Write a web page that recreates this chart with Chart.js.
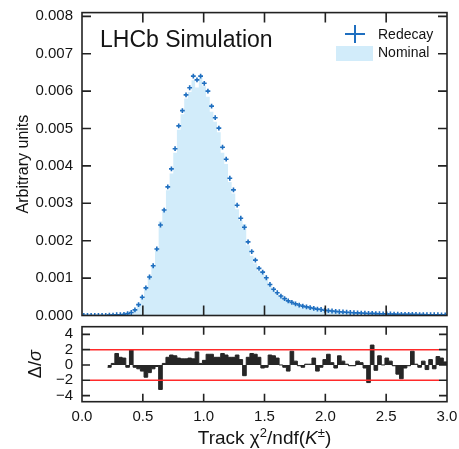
<!DOCTYPE html>
<html><head><meta charset="utf-8">
<script src="https://cdn.jsdelivr.net/npm/chart.js@4.4.1/dist/chart.umd.min.js"></script>
<style>
html,body{margin:0;padding:0;background:#fff;}
#wrap{position:relative;width:459px;height:449px;overflow:hidden;background:#fff;}
#wrap canvas{position:absolute;left:0;}
#top{top:0;}
#bot{top:322px;}
</style></head><body>
<div id="wrap"><canvas id="top" width="459" height="330"></canvas><canvas id="bot" width="459" height="127"></canvas></div>
<script>
// ---------------- data ----------------
const xTickValues = [0, 0.5, 1, 1.5, 2, 2.5, 3];
const xTickLabels = ['0.0', '0.5', '1.0', '1.5', '2.0', '2.5', '3.0'];
const yTickValuesTop = [0, 0.001, 0.002, 0.003, 0.004, 0.005, 0.006, 0.007, 0.008];
const yTickLabelsTop = ['0.000', '0.001', '0.002', '0.003', '0.004', '0.005', '0.006', '0.007', '0.008'];
const yTickValuesPull = [-4, -2, 0, 2, 4];
const yTickLabelsPull = ['\u22124', '\u22122', '0', '2', '4'];
const pullBands = [-2, 2];

// 100 bins of width 0.03 from 0 to 3
const binEdges = Array.from({length: 101}, (_, i) => Math.round(i * 3) / 100);

const redecay = [
  0, 0, 0, 0, 0, 0, 0,
  0.00001, 0.00001, 0.00002, 0.00002, 0.00003, 0.00005,
  0.00008, 0.00015, 0.00029, 0.00049, 0.00074, 0.00103, 0.00133, 0.00178,
  0.00242, 0.00282, 0.00344, 0.00392, 0.00446, 0.00507, 0.00548, 0.00590, 0.00609, 0.00640,
  0.00630, 0.00640, 0.00621, 0.00600, 0.00560, 0.00529, 0.00501, 0.00450, 0.00418, 0.00367,
  0.00336, 0.00295, 0.00260, 0.00236, 0.00197, 0.00171, 0.00148, 0.00126, 0.00116, 0.00101,
  0.00083, 0.00070, 0.00061, 0.00052, 0.00045, 0.00039, 0.00035, 0.00031, 0.00028, 0.00025,
  0.00023, 0.00021, 0.00019, 0.00017, 0.00016, 0.00014, 0.00013, 0.00012, 0.00011, 0.00010,
  0.000095, 0.000088, 0.000080, 0.000075, 0.000070, 0.000065, 0.000060, 0.000055, 0.000058, 0.000050,
  0.000048, 0.000045, 0.000042, 0.000040, 0.000037, 0.000034, 0.000032, 0.000031, 0.000030, 0.000030,
  0.000027, 0.000025, 0.000025, 0.000022, 0.000022, 0.000020, 0.000020, 0.000019, 0.000018
];

const nominal = [
  0, 0, 0, 0, 0, 0, 0,
  0.00001, 0.00001, 0.00001, 0.00002, 0.00002, 0.00005,
  0.00006, 0.00015, 0.00030, 0.00051, 0.00077, 0.00107, 0.00136, 0.00180,
  0.00252, 0.00281, 0.00335, 0.00380, 0.00435, 0.00497, 0.00538, 0.00580, 0.00598, 0.00629,
  0.00610, 0.00637, 0.00613, 0.00585, 0.00545, 0.00518, 0.00490, 0.00435, 0.00405, 0.00357,
  0.00326, 0.00284, 0.00254, 0.00245, 0.00188, 0.00160, 0.00139, 0.00119, 0.00117, 0.00099,
  0.00081, 0.00068, 0.00059, 0.00052, 0.00045, 0.00040, 0.00033, 0.00030, 0.00028, 0.00025,
  0.00023, 0.00021, 0.00018, 0.00018, 0.00016, 0.00013, 0.00012, 0.00012, 0.00011, 0.000095,
  0.000092, 0.000088, 0.000080, 0.000075, 0.000068, 0.000064, 0.000061, 0.000060, 0.000052, 0.000051,
  0.000046, 0.000045, 0.000040, 0.000039, 0.000037, 0.000036, 0.000035, 0.000032, 0.000030, 0.000028,
  0.000027, 0.000025, 0.000024, 0.000023, 0.000021, 0.000021, 0.000019, 0.000018, 0.000018
];

const pulls = [
  null, null, null, null, null, null, null,
  -0.3, 0.2, 1.5, 1.0, 0.9, -0.3,
  2.0, -0.3, -0.5, -0.8, -1.6, -1.0, -0.5, -0.2,
  -3.2, 0.2, 1.0, 1.3, 1.2, 0.9, 0.8, 0.8, 0.9, 0.8,
  1.7, 0.2, 0.6, 1.4, 1.4, 1.0, 1.0, 1.5, 1.3, 1.0,
  1.0, 1.3, 0.7, -1.4, 1.0, 1.5, 1.4, 1.0, -0.4, -0.3,
  1.3, 1.2, 0.9, 0.0, -0.3, -0.8, 1.8, 0.5, -0.1, -0.3,
  0.1, 0.1, 0.9, -0.8, -0.3, 0.7, 1.4, 0.3, -0.4, 1.2,
  0.5, 0.1, -0.1, -0.1, 0.5, 0.3, -0.4, -2.3, 2.6, -0.7,
  1.2, 0.0, 0.9, 0.5, -0.1, -1.2, -1.8, -0.4, -0.1, 1.8,
  0.1, -0.3, 0.5, -0.6, 0.7, -0.5, 1.1, 0.9, 0.4
];

// ---------------- styling ----------------
const FONT = '"Liberation Sans", Arial, sans-serif';
const INK = '#141414';
const BLUE = '#1f6fc0';
const FILL = '#d2ecfa';
const FRAME = '#222222';

// tables for the library
const pointData = redecay.map((v, i) => ({x: (binEdges[i] + binEdges[i + 1]) / 2, y: v}));
const nominalSteps = nominal.map((v, i) => ({x: binEdges[i], y: v}));
nominalSteps.push({x: binEdges[binEdges.length - 1], y: nominal[nominal.length - 1]});
const pullSteps = [];
pulls.forEach((v, i) => { if (v !== null) pullSteps.push({x: binEdges[i], y: v}); });
pullSteps.push({x: binEdges[binEdges.length - 1], y: pulls[pulls.length - 1]});

function noPad(s) { s.paddingTop = 0; s.paddingBottom = 0; s.paddingLeft = 0; s.paddingRight = 0; }

function drawFrame(chart, xLen, yLen) {
  const {ctx, chartArea: a, scales} = chart;
  ctx.save();
  ctx.strokeStyle = FRAME;
  ctx.lineWidth = 1.6;
  ctx.beginPath();
  scales.x.ticks.forEach(t => {
    const px = scales.x.getPixelForValue(t.value);
    if (px <= a.left + 1 || px >= a.right - 1) return;
    ctx.moveTo(px, a.bottom); ctx.lineTo(px, a.bottom - xLen);
    ctx.moveTo(px, a.top); ctx.lineTo(px, a.top + xLen);
  });
  scales.y.ticks.forEach(t => {
    const py = scales.y.getPixelForValue(t.value);
    if (py >= a.bottom - 1 || py <= a.top + 1) return;
    ctx.moveTo(a.left, py); ctx.lineTo(a.left + yLen, py);
    ctx.moveTo(a.right, py); ctx.lineTo(a.right - yLen, py);
  });
  ctx.stroke();
  ctx.strokeRect(a.left, a.top, a.right - a.left, a.bottom - a.top);
  ctx.restore();
}

const topDecor = {
  id: 'topDecor',
  afterDraw(chart) {
    drawFrame(chart, 10, 9);
    const {ctx, chartArea: a} = chart;
    ctx.save();
    ctx.fillStyle = INK;
    ctx.textBaseline = 'alphabetic';
    ctx.textAlign = 'left';
    ctx.font = '23px ' + FONT;
    ctx.fillText('LHCb Simulation', 100, 46.5);
    // legend
    ctx.strokeStyle = BLUE; ctx.lineWidth = 2;
    ctx.beginPath();
    ctx.moveTo(345, 34); ctx.lineTo(365, 34);
    ctx.moveTo(355, 25); ctx.lineTo(355, 43);
    ctx.stroke();
    ctx.fillStyle = FILL;
    ctx.fillRect(336, 46, 37, 15);
    ctx.fillStyle = INK;
    ctx.font = '14px ' + FONT;
    ctx.fillText('Redecay', 378, 38.5);
    ctx.fillText('Nominal', 378, 57);
    // y title
    ctx.save();
    ctx.translate(24, (a.top + a.bottom) / 2);
    ctx.rotate(-Math.PI / 2);
    ctx.textAlign = 'center';
    ctx.textBaseline = 'middle';
    ctx.font = '16px ' + FONT;
    ctx.fillText('Arbitrary units', 0, 0);
    ctx.restore();
    ctx.restore();
  }
};

const botDecor = {
  id: 'botDecor',
  afterDatasetsDraw(chart) {
    const {ctx, chartArea: a, scales} = chart;
    ctx.save();
    ctx.strokeStyle = '#ff2a2a';
    ctx.lineWidth = 1.5;
    ctx.beginPath();
    pullBands.forEach(v => {
      const py = scales.y.getPixelForValue(v);
      ctx.moveTo(a.left + 8, py); ctx.lineTo(a.right - 8, py);
    });
    ctx.stroke();
    ctx.restore();
  },
  afterDraw(chart) {
    drawFrame(chart, 8, 8);
    const {ctx, chartArea: a} = chart;
    ctx.save();
    ctx.fillStyle = INK;
    // y title  Δ/σ
    ctx.save();
    ctx.translate(36, (a.top + a.bottom) / 2);
    ctx.rotate(-Math.PI / 2);
    ctx.textBaseline = 'middle';
    ctx.textAlign = 'left';
    const p1 = '\u0394/', p2 = '\u03c3';
    ctx.font = '18px ' + FONT;
    const w1 = ctx.measureText(p1).width;
    ctx.font = 'italic 18px ' + FONT;
    const w2 = ctx.measureText(p2).width;
    let x0 = -(w1 + w2) / 2;
    ctx.font = '18px ' + FONT;
    ctx.fillText(p1, x0, 0);
    ctx.font = 'italic 18px ' + FONT;
    ctx.fillText(p2, x0 + w1, 0);
    ctx.restore();
    // x title: Track χ²/ndf(K±)
    const parts = [
      {t: 'Track \u03c7', f: '19px ' + FONT, dy: 0},
      {t: '2', f: '13px ' + FONT, dy: -7.5},
      {t: '/ndf(', f: '19px ' + FONT, dy: 0},
      {t: 'K', f: 'italic 19px ' + FONT, dy: 0},
      {t: '\u00b1', f: '13px ' + FONT, dy: -7.5},
      {t: ')', f: '19px ' + FONT, dy: 0}
    ];
    let total = 0;
    parts.forEach(p => { ctx.font = p.f; p.w = ctx.measureText(p.t).width; total += p.w; });
    let x = (a.left + a.right) / 2 - total / 2;
    const base = 122;
    ctx.textAlign = 'left';
    ctx.textBaseline = 'alphabetic';
    parts.forEach(p => { ctx.font = p.f; ctx.fillText(p.t, x, base + p.dy); x += p.w; });
    ctx.restore();
  }
};

Chart.defaults.font.family = FONT;
Chart.defaults.color = INK;

new Chart(document.getElementById('top'), {
  type: 'line',
  data: {
    datasets: [
      {
        label: 'Redecay',
        data: pointData,
        showLine: false,
        pointStyle: 'cross',
        pointRadius: 2.4,
        pointBorderWidth: 1.6,
        pointBorderColor: BLUE,
        pointBackgroundColor: BLUE,
        borderColor: BLUE,
        order: 0
      },
      {
        label: 'Nominal',
        data: nominalSteps,
        stepped: 'before',
        fill: 'origin',
        backgroundColor: FILL,
        borderColor: FILL,
        borderWidth: 0,
        pointRadius: 0,
        order: 1
      }
    ]
  },
  options: {
    responsive: false,
    animation: false,
    events: [],
    layout: {padding: {left: 0, right: 12, top: 12.6, bottom: 14.5}},
    plugins: {legend: {display: false}, tooltip: {enabled: false}},
    scales: {
      x: {
        type: 'linear', min: 0, max: 3,
        grid: {display: false, drawTicks: false},
        border: {display: false},
        ticks: {display: false},
        afterBuildTicks: s => { s.ticks = xTickValues.map(v => ({value: v})); },
        afterFit: s => { s.height = 0; noPad(s); }
      },
      y: {
        type: 'linear', min: 0, max: 0.0081,
        grid: {display: false, drawTicks: false},
        border: {display: false},
        ticks: {
          padding: 9,
          autoSkip: false,
          color: INK,
          font: {size: 15, family: FONT},
          callback: (v, i) => yTickLabelsTop[i]
        },
        afterBuildTicks: s => { s.ticks = yTickValuesTop.map(v => ({value: v})); },
        afterFit: s => { s.width = 82; noPad(s); }
      }
    }
  },
  plugins: [topDecor]
});

new Chart(document.getElementById('bot'), {
  type: 'line',
  data: {
    datasets: [
      {
        label: 'Pull',
        data: pullSteps,
        stepped: 'before',
        fill: 'origin',
        backgroundColor: '#262626',
        borderColor: '#262626',
        borderWidth: 1,
        pointRadius: 0
      }
    ]
  },
  options: {
    responsive: false,
    animation: false,
    events: [],
    layout: {padding: {left: 0, right: 12, top: 4.7, bottom: 0}},
    plugins: {legend: {display: false}, tooltip: {enabled: false}},
    scales: {
      x: {
        type: 'linear', min: 0, max: 3,
        grid: {display: false, drawTicks: false},
        border: {display: false},
        ticks: {
          padding: 6,
          autoSkip: false,
          color: INK,
          maxRotation: 0,
          font: {size: 15, family: FONT},
          callback: (v, i) => xTickLabels[i]
        },
        afterBuildTicks: s => { s.ticks = xTickValues.map(v => ({value: v})); },
        afterFit: s => { s.height = 47.3; noPad(s); }
      },
      y: {
        type: 'linear', min: -4.8, max: 5.0,
        grid: {display: false, drawTicks: false},
        border: {display: false},
        ticks: {
          padding: 9,
          autoSkip: false,
          color: INK,
          font: {size: 15, family: FONT},
          callback: (v, i) => yTickLabelsPull[i]
        },
        afterBuildTicks: s => { s.ticks = yTickValuesPull.map(v => ({value: v})); },
        afterFit: s => { s.width = 82; noPad(s); }
      }
    }
  },
  plugins: [botDecor]
});
</script>
</body></html>
